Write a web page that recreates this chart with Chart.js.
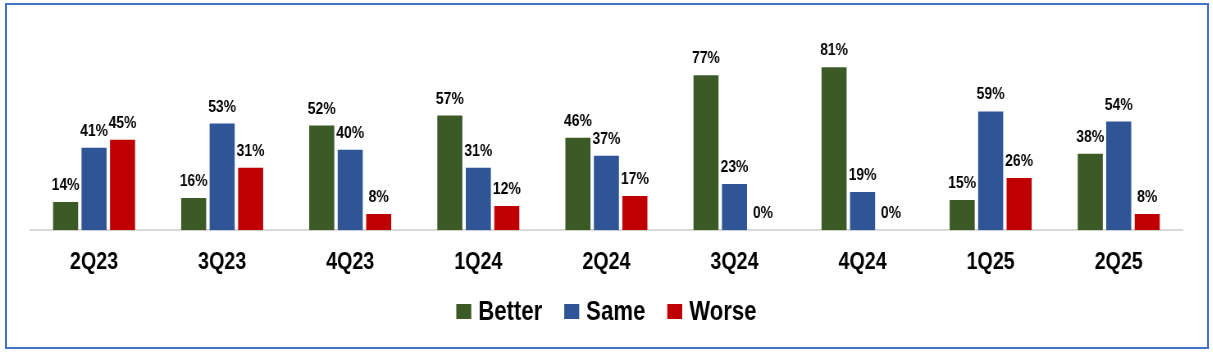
<!DOCTYPE html>
<html>
<head>
<meta charset="utf-8">
<script src="https://cdn.jsdelivr.net/npm/chart.js@4.4.1/dist/chart.umd.min.js"></script>
<style>
  html, body { margin: 0; padding: 0; background: #fff; overflow: hidden; }
  #frame { position: absolute; left: 5px; top: 3px; width: 1200px; height: 342px; border: 2px solid #4472C4; pointer-events: none; }
  /* the reference text is condensed, so the chart is drawn wide and squeezed */
  #wrap { position: absolute; left: 0; top: 0; width: 1479px; height: 353px; transform: scaleX(0.82); transform-origin: 0 0; }
</style>
</head>
<body>
<div id="wrap"><canvas id="chart"></canvas></div>
<div id="frame"></div>
<script>
const quarters = ["2Q23", "3Q23", "4Q23", "1Q24", "2Q24", "3Q24", "4Q24", "1Q25", "2Q25"];
const better = [14, 16, 52, 57, 46, 77, 81, 15, 38];
const same = [41, 53, 40, 31, 37, 23, 19, 59, 54];
const worse = [45, 31, 8, 12, 17, 0, 0, 26, 8];

const FONT = "'Liberation Sans', Arial, sans-serif";

// value labels above each bar
const barLabels = {
  id: "barLabels",
  afterDatasetsDraw(chart) {
    const ctx = chart.ctx;
    ctx.save();
    ctx.font = "bold 17px " + FONT;
    ctx.fillStyle = "#000";
    ctx.textAlign = "center";
    ctx.textBaseline = "alphabetic";
    chart.data.datasets.forEach((ds, i) => {
      chart.getDatasetMeta(i).data.forEach((bar, j) => {
        ctx.fillText(ds.data[j] + "%", bar.x, bar.y - 12);
      });
    });
    ctx.restore();
  }
};

// legend with tight box/text spacing
const bottomLegend = {
  id: "bottomLegend",
  afterDraw(chart) {
    const ctx = chart.ctx;
    const box = 18.3, gap = 8.5, itemGap = 26.8, baseY = 320;
    ctx.save();
    ctx.font = "bold 27px " + FONT;
    ctx.textBaseline = "alphabetic";
    ctx.textAlign = "left";
    const items = chart.data.datasets.map(ds => ({ label: ds.label, color: ds.backgroundColor, w: ctx.measureText(ds.label).width }));
    let total = items.reduce((s, it) => s + box + gap + it.w, 0) + itemGap * (items.length - 1);
    let x = (chart.width - total) / 2;
    items.forEach(it => {
      ctx.fillStyle = it.color;
      ctx.fillRect(x, baseY - 16, box, 15);
      ctx.fillStyle = "#000";
      ctx.fillText(it.label, x + box + gap, baseY);
      x += box + gap + it.w + itemGap;
    });
    ctx.restore();
  }
};

new Chart(document.getElementById("chart").getContext("2d"), {
  type: "bar",
  data: {
    labels: quarters,
    datasets: [
      { label: "Better", data: better, backgroundColor: "#3C5A25" },
      { label: "Same", data: same, backgroundColor: "#2F5597" },
      { label: "Worse", data: worse, backgroundColor: "#C00000" }
    ]
  },
  options: {
    responsive: true,
    maintainAspectRatio: false,
    animation: false,
    categoryPercentage: 0.667,
    barPercentage: 0.88,
    layout: { padding: { left: 36.6, right: 36.6, top: 29, bottom: 58 } },
    scales: {
      x: {
        grid: { display: false, drawTicks: false },
        border: { display: true, color: "#D9D9D9", width: 2 },
        ticks: { color: "#000", font: { family: FONT, size: 24, weight: "bold" }, padding: 18 }
      },
      y: { display: false, min: 0, max: 100 }
    },
    plugins: {
      legend: { display: false },
      tooltip: { enabled: false }
    }
  },
  plugins: [barLabels, bottomLegend]
});
</script>
</body>
</html>
